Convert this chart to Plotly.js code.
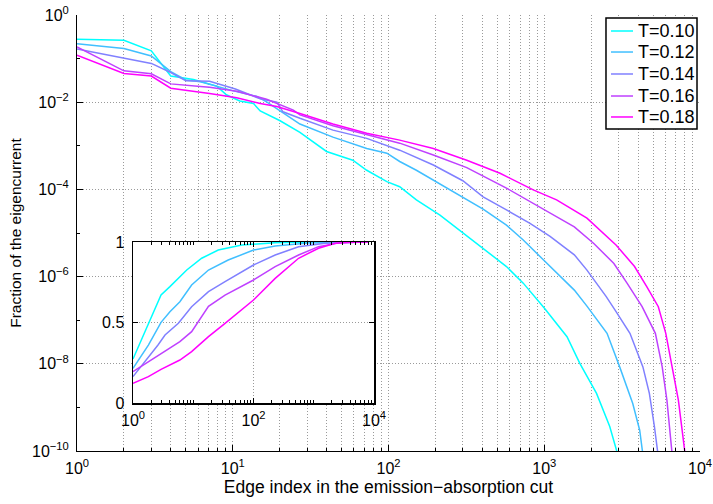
<!DOCTYPE html>
<html>
<head>
<meta charset="utf-8">
<script src="https://cdn.plot.ly/plotly-3.0.1.min.js"></script>
<style>
html,body{margin:0;padding:0;background:#fff;}
#wrap{position:relative;width:713px;height:504px;}
#chart,#inset{position:absolute;left:0;top:0;width:713px;height:504px;}
</style>
</head>
<body>
<div id="wrap"><div id="chart"></div><div id="inset"></div></div>
<script>
// ---- Main panel: fraction of the eigencurrent per edge index ----
const seriesNames = ["T=0.10", "T=0.12", "T=0.14", "T=0.16", "T=0.18"];
const seriesColors = ["#00ffff", "#40bfff", "#8080ff", "#bf40ff", "#ff00ff"];

const x010 = [1,2,3,4,5.6,7.9,9.1,11.1,13.6,15,20,27,40,59,72.5,97.6,118,151,214,302,405,572,733,1000,1400,1692,2166,2633,2920,3100];
const y010 = [0.277,0.263,0.151,0.0398,0.0331,0.0234,0.0148,0.0107,0.00933,0.00631,0.0038,0.00204,0.000741,0.000468,0.000275,0.000151,0.000115,5.75e-5,2.57e-5,9.77e-6,4.47e-6,1.70e-6,7.08e-7,1.91e-7,4.17e-8,1.02e-8,2.09e-9,3.63e-10,1.0e-10,3.16e-11];

const x012 = [1,2,3,4,5,6.2,10.1,14.3,16.5,19.2,27,44,72.5,97.6,118,151,214,302,405,572,733,990,1270,1560,1880,2530,3050,3700,4100,4300,4450];
const y012 = [0.219,0.170,0.115,0.0501,0.0324,0.0295,0.0182,0.0135,0.0102,0.00708,0.00316,0.00158,0.000871,0.000676,0.000437,0.000275,0.000132,6.31e-5,3.55e-5,1.51e-5,6.92e-6,2.40e-6,1.0e-6,4.9e-7,2.1e-7,5.0e-8,8.5e-9,1.23e-9,3.0e-10,1.0e-10,3.2e-11];

const x014 = [1,2,3,4,5,7.1,10.4,15,19.2,21,27,44,72.5,118,194,300,405,572,810,1090,1560,1880,2170,2500,2850,3550,4300,4730,5100,5340,5450];
const y014 = [0.166,0.102,0.0776,0.0479,0.0309,0.0302,0.0200,0.0120,0.0100,0.00603,0.00427,0.00229,0.00148,0.000794,0.000363,0.000158,6.76e-5,3.39e-5,1.66e-5,8.32e-6,3.16e-6,1.41e-6,7.08e-7,3.47e-7,1.70e-7,5.0e-8,8.5e-9,2.1e-9,3.6e-10,1.0e-10,3.2e-11];

const x016 = [1,2,3,4,6.2,7.1,10.6,16.5,24.5,27,44,72.5,118,194,318,572,930,1560,2080,2800,3400,4250,5170,5720,6130,6640,6800];
const y016 = [0.186,0.0525,0.0447,0.0263,0.0229,0.0219,0.0178,0.0117,0.00661,0.00513,0.00288,0.00178,0.00115,0.000617,0.000316,0.000107,3.98e-5,1.38e-5,5.75e-6,2.0e-6,7.08e-7,2.04e-7,5.0e-8,8.5e-9,1.48e-9,1.0e-10,3.2e-11];

const x018 = [1,2,3,4,7.1,10.6,15,19.2,27,44,72.5,118,194,318,520,850,1200,1880,2900,3800,4550,5400,6030,6640,7260,7980,8100];
const y018 = [0.120,0.0457,0.0398,0.0209,0.0158,0.0126,0.00933,0.00794,0.0055,0.00316,0.00195,0.00135,0.000871,0.000468,0.000234,9.77e-5,5.75e-5,2.19e-5,5.25e-6,1.70e-6,5.89e-7,2.04e-7,5.0e-8,8.5e-9,1.48e-9,1.0e-10,3.2e-11];

// ---- Inset: cumulative fraction ----
const ix010 = [1,2.92,4.1,7.8,13.8,26,64,229,1000,8000];
const iy010 = [0.273,0.671,0.723,0.826,0.899,0.950,0.981,0.996,1,1];
const ix012 = [1,1.8,2.92,4.1,6.0,9.4,17.9,38,100,229,820,8000];
const iy012 = [0.215,0.360,0.501,0.567,0.629,0.733,0.826,0.888,0.950,0.975,0.994,1];
const ix014 = [1,1.58,2.6,3.4,5.66,9.4,17.9,33.7,100,229,560,1550,8000];
const iy014 = [0.164,0.257,0.36,0.422,0.495,0.598,0.692,0.754,0.857,0.919,0.971,0.992,1];
const ix016 = [1,1.8,3,6,9.4,13.8,17.9,33.7,100,229,560,1200,2930,8000];
const iy016 = [0.195,0.257,0.308,0.381,0.443,0.54,0.6,0.67,0.764,0.847,0.919,0.971,0.998,1];
const ix018 = [1,1.8,2.92,6.0,9.4,17.9,33.7,100,229,560,1200,2280,5500,8000];
const iy018 = [0.122,0.164,0.209,0.267,0.319,0.412,0.495,0.640,0.774,0.899,0.961,0.992,1,1];

// ---- Tick labels and titles ----
const xTickVals = [1,10,100,1000,10000];
const xTickText = ["10<sup>0</sup>","10<sup>1</sup>","10<sup>2</sup>","10<sup>3</sup>","10<sup>4</sup>"];
const yTickVals = [1e-10,1e-8,1e-6,1e-4,1e-2,1];
const yTickText = ["10<sup>−10</sup>","10<sup>−8</sup>","10<sup>−6</sup>","10<sup>−4</sup>","10<sup>−2</sup>","10<sup>0</sup>"];
const insetXTickVals = [1,100,10000];
const insetXTickText = ["10<sup>0</sup>","10<sup>2</sup>","10<sup>4</sup>"];
const insetYTickVals = [0,0.5,1];
const insetYTickText = ["0","0.5","1"];
const xTitle = "Edge index in the emission−absorption cut";
const yTitle = "Fraction of the eigencurrent";

const mainX = [x010,x012,x014,x016,x018];
const mainY = [y010,y012,y014,y016,y018];
const insX = [ix010,ix012,ix014,ix016,ix018];
const insY = [iy010,iy012,iy014,iy016,iy018];

const minorX = [];
for (let d = 0; d < 4; d++) for (let m = 2; m <= 9; m++) minorX.push(m * Math.pow(10, d));
const insetMinorX = minorX.concat([10, 1000]);
const yMinor = [1e-9,1e-7,1e-5,1e-3,1e-1];

const FONT = "Liberation Sans, Arial, Helvetica, sans-serif";
const gridC = "#9a9a9a";
const gridDash = "1px,2px";

// ---- main chart ----
const traces = [];
for (let i = 0; i < 5; i++) {
  traces.push({x: mainX[i], y: mainY[i], type: "scatter", mode: "lines", name: seriesNames[i],
    showlegend: false, line: {color: seriesColors[i], width: 1.5}});
}

// legend drawn as a boxed key (layout decoration in paper coordinates)
const legBox = {x0: 0.8491, x1: 0.9952, y0: 0.7385, y1: 0.9931};
const legRowY = [0.9633, 0.9151, 0.8647, 0.8142, 0.7661];
const shapes = [{type: "rect", xref: "paper", yref: "paper", x0: legBox.x0, x1: legBox.x1, y0: legBox.y0, y1: legBox.y1,
  fillcolor: "#ffffff", line: {color: "#000", width: 1.5}, layer: "above"}];
const annotations = [];
for (let i = 0; i < 5; i++) {
  shapes.push({type: "line", xref: "paper", yref: "paper", x0: 0.8571, x1: 0.8925, y0: legRowY[i], y1: legRowY[i],
    line: {color: seriesColors[i], width: 1.5}, layer: "above"});
  annotations.push({xref: "paper", yref: "paper", x: 0.8973, y: legRowY[i], xanchor: "left", yanchor: "middle",
    text: seriesNames[i], showarrow: false, font: {size: 18, family: FONT, color: "#000"}});
}

const layout = {
  width: 713, height: 504,
  margin: {l: 77, r: 13, t: 15, b: 53, pad: 0},
  paper_bgcolor: "#ffffff", plot_bgcolor: "#ffffff",
  font: {family: FONT, size: 16, color: "#000"},
  showlegend: false,
  xaxis: {type: "log", range: [0, 4], automargin: false,
    tickmode: "array", tickvals: xTickVals, ticktext: xTickText, ticklabelstandoff: 3,
    ticks: "inside", ticklen: 6, tickcolor: "#000", tickwidth: 1,
    showline: true, linecolor: "#000", linewidth: 1, mirror: false,
    showgrid: true, gridcolor: gridC, griddash: gridDash, gridwidth: 1, zeroline: false,
    minor: {tickmode: "array", tickvals: minorX, ticks: "inside", ticklen: 3, tickcolor: "#000",
      showgrid: true, gridcolor: gridC, griddash: gridDash, gridwidth: 1},
    title: {text: xTitle, font: {size: 17.5}, standoff: 2}},
  yaxis: {type: "log", range: [-10, 0], automargin: false,
    tickmode: "array", tickvals: yTickVals, ticktext: yTickText, ticklabelstandoff: 4,
    ticks: "inside", ticklen: 6, tickcolor: "#000", tickwidth: 1,
    showline: true, linecolor: "#000", linewidth: 1, mirror: false,
    showgrid: true, gridcolor: gridC, griddash: gridDash, gridwidth: 1, zeroline: false,
    minor: {tickmode: "array", tickvals: yMinor, ticks: "inside", ticklen: 3, tickcolor: "#000", showgrid: false},
    title: {text: yTitle, font: {size: 15.5}, standoff: 6}},
  shapes: shapes,
  annotations: annotations
};

// ---- inset chart (separate transparent layer on top) ----
const insTraces = [];
for (let i = 0; i < 5; i++) {
  insTraces.push({x: insX[i], y: insY[i], type: "scatter", mode: "lines", name: seriesNames[i],
    showlegend: false, line: {color: seriesColors[i], width: 1.5}});
}
const insLayout = {
  width: 713, height: 504,
  margin: {l: 133, r: 339, t: 242, b: 101, pad: 0},
  paper_bgcolor: "rgba(0,0,0,0)", plot_bgcolor: "#ffffff",
  font: {family: FONT, size: 16, color: "#000"},
  showlegend: false,
  xaxis: {type: "log", range: [0, 4], automargin: false,
    tickmode: "array", tickvals: insetXTickVals, ticktext: insetXTickText, ticklabelstandoff: 2,
    ticks: "inside", ticklen: 5, tickcolor: "#000",
    showline: true, linecolor: "#000", linewidth: 1.5, mirror: "ticks",
    showgrid: true, gridcolor: gridC, griddash: gridDash, zeroline: false,
    minor: {tickmode: "array", tickvals: insetMinorX, ticks: "inside", ticklen: 3, tickcolor: "#000", showgrid: false}},
  yaxis: {range: [0, 1], automargin: false,
    tickmode: "array", tickvals: insetYTickVals, ticktext: insetYTickText, ticklabelstandoff: 4,
    ticks: "inside", ticklen: 5, tickcolor: "#000",
    showline: true, linecolor: "#000", linewidth: 1.5, mirror: "ticks",
    showgrid: true, gridcolor: gridC, griddash: gridDash, zeroline: false}
};

Plotly.newPlot("chart", traces, layout, {displayModeBar: false, staticPlot: true});
Plotly.newPlot("inset", insTraces, insLayout, {displayModeBar: false, staticPlot: true});
</script>
</body>
</html>
